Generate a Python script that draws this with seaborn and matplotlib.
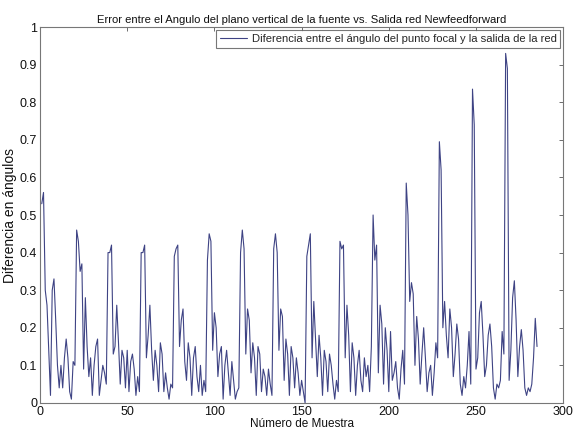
import numpy as np
import pandas as pd
import matplotlib
matplotlib.use("Agg")
import matplotlib.pyplot as plt
import seaborn as sns

# Error por ciclo (19 muestras por ciclo, muestras 1..285)
ciclo_01 = [0.53, 0.56, 0.30, 0.26, 0.14, 0.02, 0.30, 0.33, 0.22, 0.10, 0.04, 0.10, 0.04, 0.12, 0.17, 0.12, 0.03, 0.01, 0.11]
ciclo_02 = [0.10, 0.46, 0.43, 0.35, 0.37, 0.09, 0.28, 0.15, 0.07, 0.12, 0.02, 0.10, 0.15, 0.17, 0.02, 0.06, 0.10, 0.08, 0.05]
ciclo_03 = [0.40, 0.40, 0.42, 0.13, 0.15, 0.26, 0.16, 0.05, 0.14, 0.12, 0.04, 0.14, 0.03, 0.11, 0.13, 0.09, 0.02, 0.07, 0.03]
ciclo_04 = [0.40, 0.40, 0.42, 0.12, 0.18, 0.26, 0.14, 0.06, 0.14, 0.10, 0.03, 0.16, 0.13, 0.03, 0.08, 0.04, 0.01, 0.05, 0.04]
ciclo_05 = [0.39, 0.41, 0.42, 0.15, 0.22, 0.25, 0.11, 0.06, 0.16, 0.12, 0.02, 0.12, 0.15, 0.07, 0.03, 0.10, 0.02, 0.06, 0.03]
ciclo_06 = [0.38, 0.45, 0.43, 0.14, 0.24, 0.20, 0.07, 0.13, 0.15, 0.01, 0.10, 0.14, 0.08, 0.02, 0.11, 0.06, 0.01, 0.03, 0.04]
ciclo_07 = [0.40, 0.46, 0.41, 0.13, 0.25, 0.22, 0.08, 0.16, 0.12, 0.02, 0.15, 0.13, 0.03, 0.09, 0.07, 0.02, 0.09, 0.05, 0.02]
ciclo_08 = [0.41, 0.45, 0.40, 0.14, 0.25, 0.23, 0.06, 0.17, 0.13, 0.02, 0.15, 0.12, 0.04, 0.12, 0.08, 0.02, 0.06, 0.03, 0.00]
ciclo_09 = [0.39, 0.42, 0.45, 0.12, 0.27, 0.17, 0.07, 0.18, 0.12, 0.02, 0.14, 0.11, 0.03, 0.13, 0.10, 0.05, 0.01, 0.06, 0.03]
ciclo_10 = [0.43, 0.41, 0.42, 0.12, 0.26, 0.18, 0.03, 0.16, 0.12, 0.02, 0.10, 0.14, 0.06, 0.03, 0.12, 0.07, 0.10, 0.03, 0.15]
ciclo_11 = [0.50, 0.38, 0.42, 0.08, 0.26, 0.21, 0.05, 0.20, 0.14, 0.03, 0.19, 0.06, 0.08, 0.11, 0.04, 0.01, 0.09, 0.14, 0.05]
ciclo_12 = [0.585, 0.50, 0.27, 0.32, 0.29, 0.10, 0.23, 0.17, 0.05, 0.13, 0.20, 0.12, 0.03, 0.08, 0.10, 0.02, 0.08, 0.16, 0.12]
ciclo_13 = [0.695, 0.62, 0.20, 0.27, 0.18, 0.12, 0.25, 0.20, 0.07, 0.13, 0.21, 0.17, 0.05, 0.02, 0.07, 0.04, 0.10, 0.19, 0.05]
ciclo_14 = [0.835, 0.74, 0.09, 0.12, 0.24, 0.27, 0.18, 0.07, 0.10, 0.18, 0.21, 0.15, 0.04, 0.01, 0.05, 0.04, 0.06, 0.19, 0.13]
ciclo_15 = [0.93, 0.89, 0.06, 0.14, 0.28, 0.325, 0.22, 0.07, 0.15, 0.195, 0.14, 0.04, 0.02, 0.04, 0.03, 0.05, 0.12, 0.225, 0.15]

ciclos = [ciclo_01, ciclo_02, ciclo_03, ciclo_04, ciclo_05, ciclo_06, ciclo_07, ciclo_08,
          ciclo_09, ciclo_10, ciclo_11, ciclo_12, ciclo_13, ciclo_14, ciclo_15]
diferencia = np.concatenate(ciclos)
muestra = np.arange(1, len(diferencia) + 1)

x_ticks = [0, 50, 100, 150, 200, 250, 300]
y_ticks = [0, 0.1, 0.2, 0.3, 0.4, 0.5, 0.6, 0.7, 0.8, 0.9, 1]
y_ticklabels = ["0", "0.1", "0.2", "0.3", "0.4", "0.5", "0.6", "0.7", "0.8", "0.9", "1"]

titulo = "Error entre el Angulo del plano vertical de la fuente vs. Salida red Newfeedforward"
etiqueta = "Diferencia entre el ángulo del punto focal y la salida de la red"

df = pd.DataFrame({"Muestra": muestra, "Diferencia": diferencia})

sns.set_theme(style="white")
plt.rcParams["font.family"] = ["Liberation Sans", "DejaVu Sans"]
plt.rcParams["xtick.direction"] = "in"
plt.rcParams["ytick.direction"] = "in"

fig = plt.figure(figsize=(5.8, 4.37), dpi=100)
ax = fig.add_axes([0.069, 0.078, 0.902, 0.860])

sns.lineplot(data=df, x="Muestra", y="Diferencia", ax=ax, color="#3e4384",
             linewidth=0.8, label=etiqueta)

ax.set_xlim(0, 300)
ax.set_ylim(0, 1)
ax.set_xticks(x_ticks)
ax.set_xticklabels([str(t) for t in x_ticks])
ax.set_yticks(y_ticks)
ax.set_yticklabels(y_ticklabels)
ax.tick_params(axis="both", which="both", direction="in", length=3, width=0.6,
               color="#555555", labelsize=9, labelcolor="#111111",
               top=True, right=True, pad=2)
for s in ax.spines.values():
    s.set_color("#777777")
    s.set_linewidth(0.8)

ax.set_title(titulo, fontsize=8.1, color="#111111", pad=3)
ax.set_xlabel("Número de Muestra", fontsize=8.5, color="#111111", labelpad=0)
ax.set_ylabel("Diferencia en ángulos", fontsize=10, color="#111111", labelpad=2)

leg = ax.legend(loc="upper right", fontsize=8.1, frameon=True, fancybox=False,
                borderpad=0.35, handlelength=2.4, handletextpad=0.4,
                borderaxespad=0.25)
leg.get_frame().set_edgecolor("#555555")
leg.get_frame().set_linewidth(0.8)

fig.savefig("out.png", dpi=100, facecolor="white")
